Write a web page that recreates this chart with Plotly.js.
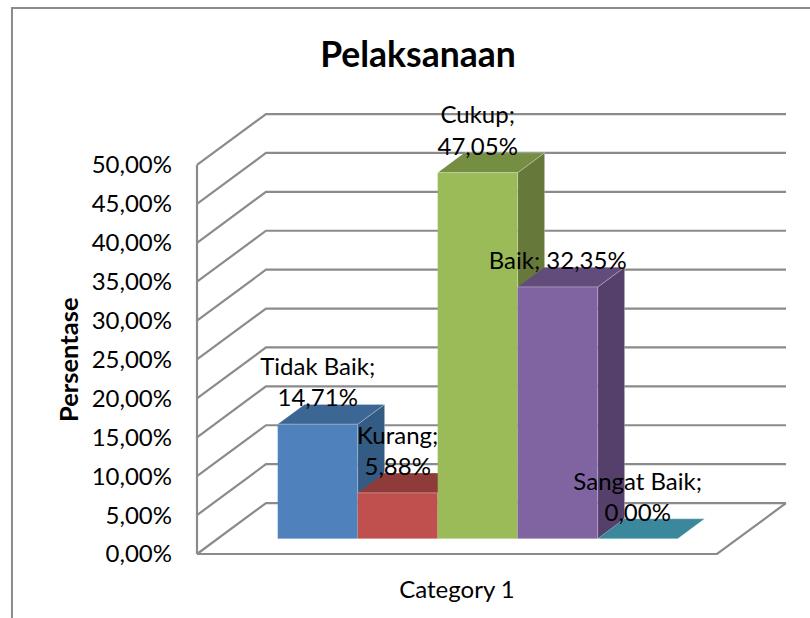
<!DOCTYPE html>
<html>
<head>
<meta charset="utf-8">
<script src="https://cdn.plot.ly/plotly-3.0.1.min.js"></script>
<style>body { margin: 0; background: #fff; }</style>
</head>
<body>
<div id="plot" style="width:810px;height:618px"></div>
<script>
// chart values
const categories = ['Tidak Baik', 'Kurang', 'Cukup', 'Baik', 'Sangat Baik'];
const values = [14.71, 5.88, 47.05, 32.35, 0];
const labelBreaks = ['<br>', '<br>', '<br>', ' ', '<br>'];
const frontColors = ['#4f81bd', '#c0504d', '#9bbb59', '#8064a2', '#4bacc6'];
const topColors = ['#3c6694', '#8f3b39', '#758e42', '#624c7c', '#3b879b'];
const sideColors = ['#345b84', '#7d3432', '#66793b', '#54406a', '#30707f'];
const yTicks = [0, 5, 10, 15, 20, 25, 30, 35, 40, 45, 50];
const yTickLabels = yTicks.map(v => v.toFixed(2).replace('.', ',') + '%');

// oblique projection: depth 0 is the front plane, depth 1 the back wall
const depthX = 0.8625;
const depthY = 6.55;
const floorLeft = -0.75;
const floorRight = 5.75;
const barFront = 0.3;
const barBack = 0.69;

function px(x, d) { return x + d * depthX; }
function py(y, d) { return y + d * depthY; }

function poly(points, fill) {
    return {
        x: points.map(p => px(p[0], p[2])),
        y: points.map(p => py(p[1], p[2])),
        mode: 'lines',
        fill: 'toself',
        fillcolor: fill,
        line: { color: 'rgba(255,255,255,0.25)', width: 1 },
        hoverinfo: 'skip',
        showlegend: false
    };
}

// walls and floor
const gridX = [];
const gridY = [];
yTicks.forEach(v => {
    gridX.push(floorLeft, px(floorLeft, 1), px(floorRight, 1), null);
    gridY.push(v, py(v, 1), py(v, 1), null);
});
gridX.push(floorLeft, floorLeft, null, floorLeft, floorRight, px(floorRight, 1));
gridY.push(0, 50, null, 0, 0, py(0, 1));

const traces = [{
    x: gridX,
    y: gridY,
    mode: 'lines',
    line: { color: '#8b8b8b', width: 2.2 },
    connectgaps: false,
    hoverinfo: 'skip',
    showlegend: false
}];

// bars, left to right so each one overlaps the side of the previous one
values.forEach((v, i) => {
    traces.push(poly([[i + 1, 0, barFront], [i + 1, 0, barBack], [i + 1, v, barBack], [i + 1, v, barFront]], sideColors[i]));
    traces.push(poly([[i, v, barFront], [i + 1, v, barFront], [i + 1, v, barBack], [i, v, barBack]], topColors[i]));
    if (v > 0) {
        traces.push(poly([[i, 0, barFront], [i + 1, 0, barFront], [i + 1, v, barFront], [i, v, barFront]], frontColors[i]));
    }
});

// data labels
traces.push({
    x: values.map((v, i) => px(i + 0.5, barFront)),
    y: values.map((v, i) => v + (labelBreaks[i] === ' ' ? 5.1 : 7.05)),
    text: values.map((v, i) => categories[i] + ';' + labelBreaks[i] + v.toFixed(2).replace('.', ',') + '%'),
    mode: 'text',
    textposition: 'middle center',
    textfont: { family: 'Lato, sans-serif', size: 24, color: '#000' },
    hoverinfo: 'skip',
    showlegend: false
});

const layout = {
    width: 810,
    height: 618,
    margin: { l: 195, r: 20, t: 105, b: 62 },
    paper_bgcolor: '#fff',
    plot_bgcolor: 'rgba(0,0,0,0)',
    font: { family: 'Lato, sans-serif', size: 24, color: '#000' },
    title: {
        text: '<b>Pelaksanaan</b>',
        font: { size: 35.5 },
        x: 418 / 810,
        xanchor: 'center',
        y: 1 - 55 / 618,
        yanchor: 'middle'
    },
    xaxis: {
        range: [-0.775, 6.6625],
        tickvals: [2.5],
        ticktext: ['Category 1'],
        ticks: '',
        showgrid: false,
        zeroline: false,
        showline: false,
        ticklabelstandoff: 17
    },
    yaxis: {
        range: [-0.257, 57.71],
        tickvals: yTicks,
        ticktext: yTickLabels,
        ticks: '',
        showgrid: false,
        zeroline: false,
        showline: false,
        ticklabelstandoff: 22
    },
    annotations: [{
        text: '<b>Persentase</b>',
        font: { size: 25.5 },
        xref: 'paper',
        yref: 'paper',
        x: (68 - 195) / 595,
        y: (556 - 360) / 451,
        xanchor: 'center',
        yanchor: 'middle',
        textangle: -90,
        showarrow: false
    }],
    shapes: [{
        type: 'path',
        xref: 'paper',
        yref: 'paper',
        path: 'M -0.3076 -0.2 L -0.3076 1.2151 L 1.5 1.2151',
        line: { color: '#8b8b8b', width: 2 }
    }]
};

Plotly.newPlot('plot', traces, layout, { displayModeBar: false, staticPlot: true });
</script>
</body>
</html>
